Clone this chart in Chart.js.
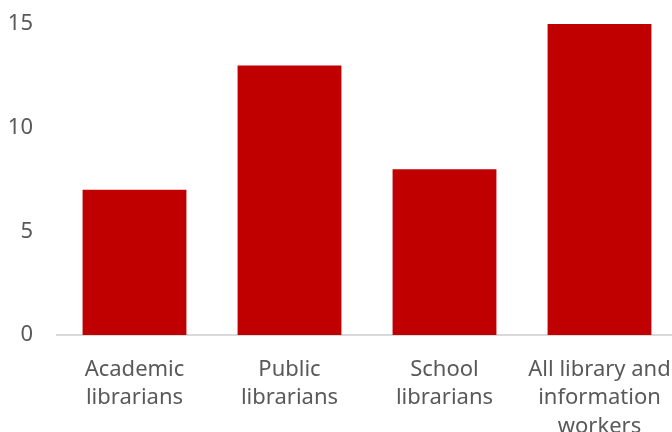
<!DOCTYPE html>
<html>
<head>
<meta charset="utf-8">
<script src="https://cdn.jsdelivr.net/npm/chart.js@4"></script>
<style>
  html, body { margin: 0; padding: 0; background: #fff; overflow: hidden; }
  #wrap { width: 672px; height: 432px; overflow: hidden; }
</style>
</head>
<body>
<div id="wrap"><canvas id="chart" width="677" height="440"></canvas></div>
<script>
// categories and values
const categories = [
    ['Academic', 'librarians'],
    ['Public', 'librarians'],
    ['School', 'librarians'],
    ['All library and', 'information', 'workers']
];
const values = [7, 13, 8, 15];
const yTicks = [0, 5, 10, 15];

const textColor = '#595959';
const fontFamily = '"Noto Sans", "Open Sans", sans-serif';

const ctx = document.getElementById('chart').getContext('2d');
const chart = new Chart(ctx, {
    type: 'bar',
    data: {
        labels: categories,
        datasets: [{
            data: values,
            backgroundColor: '#C00000',
            borderWidth: 0,
            categoryPercentage: 1,
            barPercentage: 0.67
        }]
    },
    options: {
        responsive: false,
        animation: false,
        layout: { padding: { top: 24, left: 0, right: 0, bottom: 0 } },
        plugins: {
            legend: { display: false },
            tooltip: { enabled: false }
        },
        scales: {
            x: {
                grid: { display: false, drawTicks: false },
                border: { display: true, color: '#d9d9d9', width: 2 },
                afterFit: axis => {
                    axis.height = 105;
                    axis.paddingLeft = 0;
                    axis.paddingRight = 0;
                },
                ticks: {
                    color: textColor,
                    font: { family: fontFamily, size: 22, lineHeight: 1.3 },
                    padding: 20,
                    maxRotation: 0,
                    autoSkip: false
                }
            },
            y: {
                min: 0,
                max: 15,
                afterBuildTicks: axis => {
                    axis.ticks = yTicks.map(v => ({ value: v }));
                },
                afterFit: axis => {
                    axis.width = 57;
                    axis.paddingTop = 0;
                    axis.paddingBottom = 0;
                },
                grid: { display: false, drawTicks: false },
                border: { display: false },
                ticks: {
                    color: textColor,
                    font: { family: fontFamily, size: 22 },
                    padding: 24
                }
            }
        }
    }
});
</script>
</body>
</html>
